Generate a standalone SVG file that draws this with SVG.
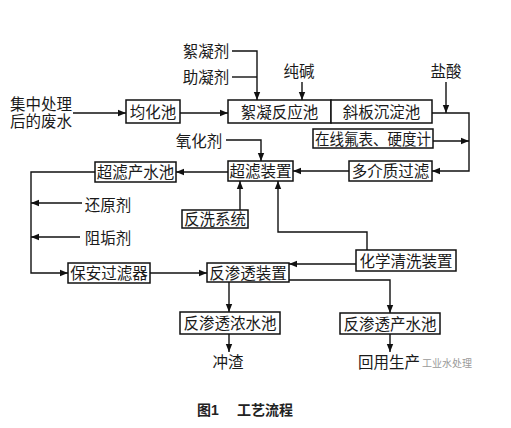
<svg xmlns="http://www.w3.org/2000/svg" width="511" height="428" viewBox="0 0 511 428">
<style>
.box{fill:#fff;stroke:#111;stroke-width:1.5}
.t{font-family:"Liberation Serif","Noto Sans CJK SC",serif;font-size:15.5px;fill:#1a1a1a;text-anchor:middle;dominant-baseline:central}
.c{fill:none;stroke:#111;stroke-width:1.4}
.cap{font-family:"Liberation Sans","Noto Sans CJK SC",sans-serif;font-size:14px;font-weight:bold;fill:#222;dominant-baseline:central}
</style>
<defs>
<marker id="ah" markerUnits="userSpaceOnUse" markerWidth="8" markerHeight="8" viewBox="0 0 8 8" refX="8" refY="4" orient="auto">
<path d="M0,0.8 L8,4 L0,7.2 Z" fill="#111"/>
</marker>
</defs>
<rect width="511" height="428" fill="#fff"/>
<g id="connectors">
<path class="c" d="M232 51 H257 V100" marker-end="url(#ah)"/>
<path class="c" d="M232 77 H257"/>
<path class="c" d="M302 82 V100" marker-end="url(#ah)"/>
<path class="c" d="M446 82 V113" marker-end="url(#ah)"/>
<path class="c" d="M432 113 H469 V171 H432" marker-end="url(#ah)"/>
<path class="c" d="M433 141 H469" marker-end="url(#ah)"/>
<path class="c" d="M73 113 H126" marker-end="url(#ah)"/>
<path class="c" d="M180 113 H228" marker-end="url(#ah)"/>
<path class="c" d="M226 140 H261 V161" marker-end="url(#ah)"/>
<path class="c" d="M349 171 H293" marker-end="url(#ah)"/>
<path class="c" d="M228 172 H176" marker-end="url(#ah)"/>
<path class="c" d="M95 172 H31 V273 H68" marker-end="url(#ah)"/>
<path class="c" d="M82 203 H31" marker-end="url(#ah)"/>
<path class="c" d="M80 237 H31" marker-end="url(#ah)"/>
<path class="c" d="M240 210 V181" marker-end="url(#ah)"/>
<path class="c" d="M367 250 V232 H278 V181" marker-end="url(#ah)"/>
<path class="c" d="M356 264 H289" marker-end="url(#ah)"/>
<path class="c" d="M150 273 H207" marker-end="url(#ah)"/>
<path class="c" d="M289 280 H390 V313" marker-end="url(#ah)"/>
<path class="c" d="M229 282 V312" marker-end="url(#ah)"/>
<path class="c" d="M229 334 V352" marker-end="url(#ah)"/>
<path class="c" d="M390 334 V352" marker-end="url(#ah)"/>
</g>
<g id="n-junhua"><rect class="box" x="126" y="100" width="54" height="23"/><text class="t" x="153" y="112">均化池</text></g>
<g id="n-xuning"><rect class="box" x="228" y="100" width="103" height="23"/><text class="t" x="279.5" y="112">絮凝反应池</text></g>
<g id="n-xieban"><rect class="box" x="331" y="100" width="101" height="23"/><text class="t" x="381.5" y="112">斜板沉淀池</text></g>
<g id="n-zaixian"><rect class="box" x="313" y="129" width="120" height="19"/><text class="t" x="373" y="139" textLength="116" lengthAdjust="spacingAndGlyphs">在线氟表、硬度计</text></g>
<g id="n-duojie"><rect class="box" x="349" y="161" width="83" height="20"/><text class="t" x="390.5" y="171.5">多介质过滤</text></g>
<g id="n-chaolv"><rect class="box" x="228" y="161" width="65" height="20"/><text class="t" x="260.5" y="171.5">超滤装置</text></g>
<g id="n-chaolvchan"><rect class="box" x="95" y="162" width="81" height="20"/><text class="t" x="135.5" y="172">超滤产水池</text></g>
<g id="n-fanxi"><rect class="box" x="182" y="210" width="66" height="18"/><text class="t" x="215" y="219.5">反洗系统</text></g>
<g id="n-baoan"><rect class="box" x="68" y="263" width="82" height="20"/><text class="t" x="109" y="273.5">保安过滤器</text></g>
<g id="n-fanshen"><rect class="box" x="207" y="263" width="82" height="19"/><text class="t" x="248" y="273">反渗透装置</text></g>
<g id="n-huaxue"><rect class="box" x="356" y="250" width="100" height="21"/><text class="t" x="406" y="261">化学清洗装置</text></g>
<g id="n-nongshui"><rect class="box" x="180" y="312" width="100" height="22"/><text class="t" x="230" y="323.5">反渗透浓水池</text></g>
<g id="n-chanshui"><rect class="box" x="340" y="313" width="100" height="21"/><text class="t" x="390" y="324">反渗透产水池</text></g>
<g id="labels">
<text class="t" x="206" y="51">絮凝剂</text>
<text class="t" x="206" y="77">助凝剂</text>
<text class="t" x="299" y="71">纯碱</text>
<text class="t" x="446" y="71">盐酸</text>
<text class="t" x="41" y="104">集中处理</text>
<text class="t" x="41" y="121">后的废水</text>
<text class="t" x="199" y="141">氧化剂</text>
<text class="t" x="108" y="205">还原剂</text>
<text class="t" x="108" y="238">阻垢剂</text>
<text class="t" x="228" y="362">冲渣</text>
<text class="t" x="358" y="362" style="text-anchor:start">回用生产</text>
<text x="422" y="362" style="font-family:'Noto Sans CJK SC',sans-serif;font-size:10px;fill:#9a9a9a;dominant-baseline:central">工业水处理</text>
</g>
<g id="caption">
<text class="cap" x="197" y="410">图1</text>
<text class="cap" x="237" y="410">工艺流程</text>
</g>
</svg>
